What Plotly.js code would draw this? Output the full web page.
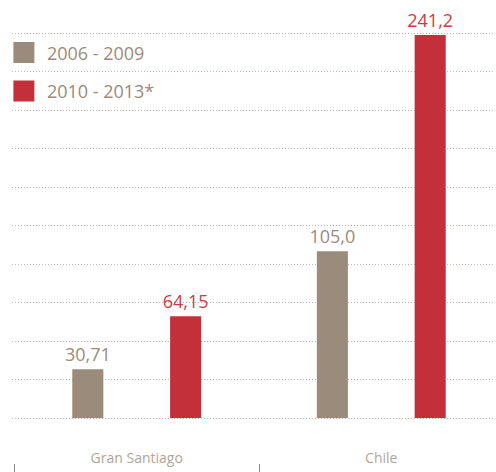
<!DOCTYPE html>
<html>
<head>
<meta charset="utf-8">
<script src="https://cdn.plot.ly/plotly-3.0.1.min.js"></script>
<style>html,body{margin:0;padding:0;background:#fff;}#chart{width:496px;height:472px;}</style>
</head>
<body>
<div id="chart"></div>
<script>
const categories = ['Gran Santiago', 'Chile'];
const seriesNames = ['2006 - 2009', '2010 - 2013*'];
const values2006 = [30.71, 105.0];
const values2010 = [64.15, 241.2];
const labels2006 = ['30,71', '105,0'];
const labels2010 = ['64,15', '241,2'];

const GRAY = '#9b8b7b';
const RED = '#c4303a';
const RED_TEXT = '#cf3a44';
const GRID = '#c4b8ac';
const FONT = 'Open Sans, sans-serif';

const barWidth = 0.127;
const half = 0.2;

const traces = [
  {
    type: 'bar', x: categories, y: values2006, name: seriesNames[0],
    width: barWidth, offset: -half - barWidth / 2,
    marker: {color: GRAY}, text: labels2006, textposition: 'outside',
    constraintext: 'none',
    textfont: {family: FONT, size: 18, color: GRAY}, cliponaxis: false,
    showlegend: false, hoverinfo: 'skip'
  },
  {
    type: 'bar', x: categories, y: values2010, name: seriesNames[1],
    width: barWidth, offset: half - barWidth / 2,
    marker: {color: RED}, text: labels2010, textposition: 'outside',
    constraintext: 'none',
    textfont: {family: FONT, size: 18, color: RED_TEXT}, cliponaxis: false,
    showlegend: false, hoverinfo: 'skip'
  },
  {
    type: 'scatter', mode: 'markers', x: [null], y: [null], name: seriesNames[0],
    legendgroup: 'a',
    marker: {symbol: 'square', size: 16, color: GRAY, line: {width: 5, color: GRAY}},
    hoverinfo: 'skip'
  },
  {
    type: 'scatter', mode: 'markers', x: [null], y: [null], name: seriesNames[1],
    legendgroup: 'b',
    marker: {symbol: 'square', size: 16, color: RED, line: {width: 5, color: RED}},
    hoverinfo: 'skip'
  },
  {
    type: 'scatter', mode: 'markers', x: categories, y: [null, null],
    xaxis: 'x2', showlegend: false, hoverinfo: 'skip'
  }
];

const xRange = [-0.51, 1.465];
const yTop = 242.46;
const yPad = 1.26;
const layout = {
  width: 496, height: 472,
  margin: {l: 12, r: 1, t: 31, b: 0, pad: 0},
  paper_bgcolor: '#fff', plot_bgcolor: '#fff',
  barmode: 'overlay',
  font: {family: FONT, color: GRAY},
  xaxis: {
    type: 'category', range: xRange,
    showgrid: false, zeroline: false, showline: false, ticks: '',
    tickfont: {family: FONT, size: 14, color: '#b0a59a'},
    ticklabelstandoff: 28, fixedrange: true
  },
  xaxis2: {
    type: 'category', overlaying: 'x', anchor: 'free', position: 0,
    range: xRange, tickson: 'boundaries', ticks: 'inside',
    ticklen: 8, tickcolor: '#888', tickwidth: 1, showticklabels: false,
    showgrid: false, zeroline: false, showline: false,
    categoryarray: categories
  },
  yaxis: {
    domain: [52 / 441, 1], range: [-yPad, yTop + yPad],
    dtick: yTop / 10, tick0: 0,
    showgrid: true, gridcolor: GRID, griddash: '1px,2px', gridwidth: 1,
    zeroline: false, showline: false, showticklabels: false, ticks: '',
    fixedrange: true
  },
  legend: {
    x: -0.023, y: 1 - 3 / 389, xanchor: 'left', yanchor: 'top',
    bgcolor: 'rgba(0,0,0,0)', font: {family: FONT, size: 18, color: GRAY},
    tracegroupgap: 12, itemwidth: 36, itemclick: false
  },
  showlegend: true
};

Plotly.newPlot('chart', traces, layout, {displayModeBar: false, staticPlot: true});
</script>
</body>
</html>
